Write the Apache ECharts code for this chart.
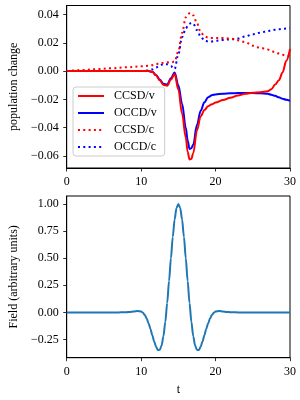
<!DOCTYPE html>
<html><head><meta charset="utf-8">
<script src="https://cdn.jsdelivr.net/npm/echarts@6/dist/echarts.min.js"></script>
<style>html,body{margin:0;padding:0;background:#fff}#c{width:300px;height:400px}</style>
</head><body><div id="c"></div>
<script>
// ---- data ----
const tTop   = [0,1,2,4,6,8,10,11,11.5,12,12.5,13,13.5,14,14.5,15,15.5,16,16.25,16.5,16.75,17,17.5,18,18.5,19,19.5,20,21,22,23,24,25,26,27,27.5,28,28.5,29,29.5,30];
const ccsdV  = [0,0,0,0,0,0,0,0,-0.0005,-0.003,-0.0065,-0.0098,-0.0104,-0.006,-0.002,-0.013,-0.030,-0.047,-0.057,-0.0625,-0.062,-0.058,-0.042,-0.032,-0.0275,-0.0248,-0.0235,-0.0222,-0.0205,-0.0188,-0.0172,-0.016,-0.0153,-0.015,-0.0143,-0.0128,-0.0095,-0.0065,-0.001,0.0073,0.0156];
const occdV  = [0,0,0,0,0,0,0,0,-0.0005,-0.0028,-0.006,-0.009,-0.0095,-0.005,-0.001,-0.010,-0.023,-0.040,-0.049,-0.055,-0.0545,-0.052,-0.038,-0.028,-0.022,-0.0185,-0.017,-0.0165,-0.016,-0.0157,-0.0155,-0.0155,-0.0155,-0.0157,-0.016,-0.0167,-0.0175,-0.0185,-0.0195,-0.0203,-0.021];
const ccsdC  = [0,0.0005,0.0008,0.0014,0.002,0.0027,0.0034,0.0038,0.0042,0.005,0.0055,0.006,0.0062,0.006,0.0068,0.014,0.027,0.038,0.040,0.041,0.041,0.0395,0.034,0.0275,0.0248,0.0237,0.0234,0.0234,0.0234,0.023,0.0218,0.0205,0.018,0.0165,0.0153,0.0142,0.0134,0.0125,0.0115,0.011,0.0106];
const occdC  = [0,0,0,0,0,0,0,0.0005,0.0012,0.0025,0.004,0.005,0.0048,0.0035,0.0015,0.012,0.024,0.030,0.032,0.0335,0.034,0.0335,0.029,0.0245,0.0215,0.021,0.021,0.0215,0.022,0.0225,0.023,0.0245,0.026,0.0272,0.0283,0.0288,0.0293,0.0296,0.0299,0.0301,0.0303];
const seriesNames = ['CCSD/v','OCCD/v','CCSD/c','OCCD/c'];

const fieldT = [0,5,7,7.5,8,8.5,9,9.5,10,10.25,10.5,10.75,11,11.25,11.5,11.75,12,12.25,12.5,12.75,13,13.25,13.5,13.75,14,14.25,14.5,14.75,15,15.25,15.5,15.75,16,16.25,16.5,16.75,17,17.25,17.5,17.75,18,18.25,18.5,18.75,19,19.25,19.5,19.75,20,20.5,21,21.5,22,22.5,23,25,30];
const fieldV = [0,0,0,0.001,0.002,0.005,0.008,0.012,0.009,-0.003,-0.024,-0.057,-0.100,-0.152,-0.210,-0.267,-0.316,-0.346,-0.345,-0.305,-0.219,-0.086,0.087,0.289,0.499,0.696,0.857,0.963,1.0,0.963,0.857,0.696,0.499,0.289,0.087,-0.086,-0.219,-0.305,-0.345,-0.346,-0.316,-0.267,-0.210,-0.152,-0.100,-0.057,-0.024,-0.003,0.009,0.012,0.008,0.005,0.002,0.001,0,0,0];

const xTicks = [0,10,20,30];
const popTicks = [-0.06,-0.04,-0.02,0,0.02,0.04];
const fieldTicks = [-0.25,0,0.25,0.5,0.75,1.0];

// ---- chart ----
const FONT = '"Liberation Serif","DejaVu Serif",serif';
const fmt2 = v => (v < -1e-9 ? '\u2212' : '') + Math.abs(v).toFixed(2);
const pairs = (xs, ys) => xs.map((x,i) => [x, ys[i]]);

function xAxis(gi, withName){
  return {
    type:'value', gridIndex:gi, min:0, max:30, interval:10,
    name: withName ? 't' : '', nameLocation:'middle', nameGap:26,
    nameTextStyle:{fontFamily:FONT, fontSize:12, color:'#000'},
    axisLine:{show:true, onZero:false, lineStyle:{color:'#000', width:1}},
    axisTick:{show:true, length:3.5, lineStyle:{color:'#000', width:0.8}, customValues:xTicks},
    axisLabel:{color:'#000', fontFamily:FONT, fontSize:12, margin:8, customValues:xTicks},
    splitLine:{show:false}
  };
}
function yAxis(gi, name, min, max, ticks){
  return {
    type:'value', gridIndex:gi, min:min, max:max,
    name:name, nameLocation:'middle', nameGap:43, nameRotate:90,
    nameTextStyle:{fontFamily:FONT, fontSize:12, color:'#000'},
    axisLine:{show:true, onZero:false, lineStyle:{color:'#000', width:1}},
    axisTick:{show:true, length:3.5, lineStyle:{color:'#000', width:0.8}, customValues:ticks},
    axisLabel:{color:'#000', fontFamily:FONT, fontSize:12, margin:8, formatter:fmt2, customValues:ticks},
    splitLine:{show:false}
  };
}
const colors = ['#ff0000','#0000ff','#ff0000','#0000ff'];
const dataTop = [ccsdV, occdV, ccsdC, occdC];
const topSeries = dataTop.map((d,i) => ({
  name: seriesNames[i], type:'line', xAxisIndex:0, yAxisIndex:0,
  data: pairs(tTop, d), showSymbol:false, symbol:'none',
  smooth:0.35, smoothMonotone:'x',
  lineStyle:{color:colors[i], width:2, type: i<2 ? 'solid' : [2,3.3], cap:'butt'},
  itemStyle:{color:colors[i]}, z: 10 - i
}));

const chart = echarts.init(document.getElementById('c'), null, {renderer:'canvas'});
chart.setOption({
  animation:false,
  grid:[
    {left:66.7, top:5.5, width:223.3, height:162.5, show:true, borderColor:'#000', borderWidth:1, containLabel:false},
    {left:66.7, top:196, width:223.3, height:161.7, show:true, borderColor:'#000', borderWidth:1, containLabel:false}
  ],
  xAxis:[xAxis(0,false), xAxis(1,true)],
  yAxis:[yAxis(0,'population change',-0.0685,0.0464,popTicks), yAxis(1,'Field (arbitrary units)',-0.4175,1.0735,fieldTicks)],
  legend:{
    data:seriesNames, orient:'vertical', left:73, top:87,
    itemWidth:26, itemHeight:13, itemGap:5,
    padding:[3,8,3,4],
    itemStyle:{opacity:0, borderWidth:0},
    backgroundColor:'rgba(255,255,255,0.8)', borderColor:'#cccccc', borderWidth:1, borderRadius:3,
    textStyle:{fontFamily:FONT, fontSize:12, color:'#000', padding:[0,0,0,5]}
  },
  series: topSeries.concat([{
    name:'field', type:'line', xAxisIndex:1, yAxisIndex:1,
    data: pairs(fieldT, fieldV), showSymbol:false, symbol:'none',
    smooth:0.3, smoothMonotone:'x',
    lineStyle:{color:'#1f77b4', width:2}, itemStyle:{color:'#1f77b4'}
  }])
});
</script></body></html>
